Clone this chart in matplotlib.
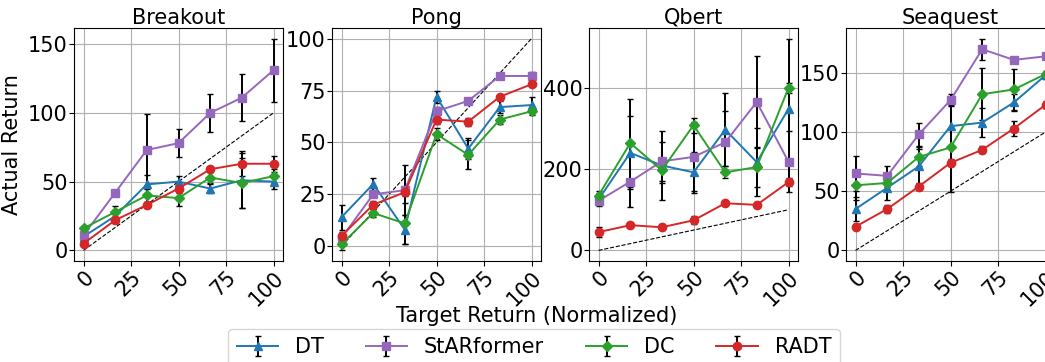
import numpy as np
import matplotlib
matplotlib.use("Agg")
import matplotlib.pyplot as plt

# --- data ---

targets = [0, 16.7, 33.3, 50, 66.7, 83.3, 100]
games = ["Breakout", "Pong", "Qbert", "Seaquest"]
methods = ["DT", "StARformer", "DC", "RADT"]

dt_mean = {
    "Breakout": [10, 25, 48, 50, 45, 51, 50],
    "Pong": [14, 30, 8, 72, 47, 67, 68],
    "Qbert": [125, 240, 209, 192, 297, 217, 348],
    "Seaquest": [35, 53, 71, 105, 108, 125, 148],
}
dt_err = {
    "Breakout": [2, 2, 7, 4, 3, 20, 5],
    "Pong": [6, 3, 7, 3, 5, 3, 4],
    "Qbert": [15, 90, 85, 50, 90, 84, 173],
    "Seaquest": [10, 10, 15, 18, 12, 7, 3],
}
star_mean = {
    "Breakout": [11, 42, 73, 78, 100, 111, 131],
    "Pong": [4, 25, 27, 65, 70, 82, 82],
    "Qbert": [122, 169, 219, 230, 266, 365, 218],
    "Seaquest": [65, 63, 98, 127, 170, 161, 164],
}
star_err = {
    "Breakout": [1, 1, 26, 10, 14, 17, 23],
    "Pong": [2, 1, 12, 2, 1, 1, 2],
    "Qbert": [5, 62, 48, 85, 76, 113, 75],
    "Seaquest": [15, 8, 10, 5, 9, 2, 2],
}
dc_mean = {
    "Breakout": [16, 28, 40, 38, 53, 49, 54],
    "Pong": [1, 16, 11, 54, 44, 61, 65],
    "Qbert": [135, 264, 197, 308, 192, 205, 400],
    "Seaquest": [55, 57, 79, 87, 132, 136, 149],
}
dc_err = {
    "Breakout": [2, 4, 5, 6, 4, 18, 5],
    "Pong": [3, 2, 10, 3, 7, 2, 2],
    "Qbert": [12, 108, 30, 18, 15, 50, 12],
    "Seaquest": [12, 3, 8, 38, 22, 17, 3],
}
radt_mean = {
    "Breakout": [5, 22, 33, 45, 59, 63, 63],
    "Pong": [5, 20, 26, 61, 60, 72, 78],
    "Qbert": [45, 62, 57, 74, 116, 112, 168],
    "Seaquest": [20, 35, 54, 74, 85, 103, 123],
}
radt_err = {
    "Breakout": [2, 2, 2, 3, 2, 9, 6],
    "Pong": [2, 2, 2, 2, 2, 1, 1],
    "Qbert": [12, 4, 5, 10, 4, 4, 10],
    "Seaquest": [2, 3, 3, 3, 3, 6, 3],
}

means = [dt_mean, star_mean, dc_mean, radt_mean]
errs = [dt_err, star_err, dc_err, radt_err]
colors = ["#1f77b4", "#9467bd", "#2ca02c", "#d62728"]
markers = ["^", "s", "D", "o"]
msizes = [6, 6, 5, 6]

plt.rcParams["font.size"] = 15

W, H = 1045, 362
fig = plt.figure(figsize=(W / 100, H / 100), dpi=100)

lefts = [74, 332, 589, 846]
axes = []
for k, game in enumerate(games):
    ax = fig.add_axes([lefts[k] / W, 1 - 261 / H, 209 / W, 233 / H])
    axes.append(ax)
    ax.plot([0, 100], [0, 100], "k--", lw=0.8)
    for m in range(len(methods)):
        ax.errorbar(targets, means[m][game], yerr=errs[m][game],
                    color=colors[m], marker=markers[m], markersize=msizes[m],
                    lw=1.4, ecolor="black", elinewidth=1.4, capsize=2.5,
                    label=methods[m])
    ax.set_title(game, fontsize=15, pad=3)
    ax.set_xticks([0, 25, 50, 75, 100])
    plt.setp(ax.get_xticklabels(), rotation=45, ha="right", rotation_mode="anchor")
    ax.tick_params(labelsize=15, pad=1)
    ax.grid(True)
    ax.set_axisbelow(True)

axes[0].set_ylabel("Actual Return", fontsize=15)

fig.text(537 / W, 1 - 316 / H, "Target Return (Normalized)", ha="center", va="center", fontsize=15)

handles, labels = axes[0].get_legend_handles_labels()
fig.legend(handles, labels, loc="upper center", ncol=4, fontsize=15,
           bbox_to_anchor=(534 / W, 1 - 329 / H), columnspacing=2.0,
           handlelength=2.0, borderaxespad=0)

fig.savefig("out.png", dpi=100)
